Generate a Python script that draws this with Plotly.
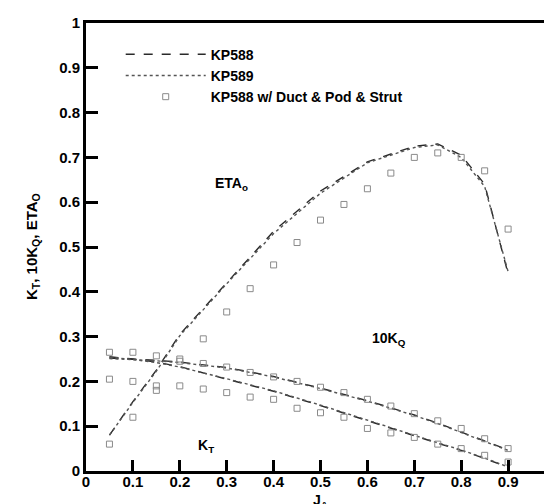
import plotly.graph_objects as go

# Advance coefficient
J_line = [0.05, 0.1, 0.15, 0.2, 0.3, 0.4, 0.5, 0.6, 0.7, 0.75, 0.8, 0.85, 0.9]
# KP588 open-water curves
kp588_kt = [0.255, 0.25, 0.243, 0.233, 0.205, 0.178, 0.146, 0.112, 0.079, 0.062, 0.046, 0.028, 0.008]
kp588_10kq = [0.252, 0.25, 0.247, 0.243, 0.231, 0.211, 0.185, 0.157, 0.125, 0.107, 0.087, 0.068, 0.047]
kp588_eta = [0.08, 0.155, 0.225, 0.305, 0.42, 0.535, 0.625, 0.69, 0.725, 0.73, 0.705, 0.64, 0.44]
# KP589 open-water curves
kp589_kt = [0.254, 0.249, 0.242, 0.232, 0.206, 0.179, 0.147, 0.113, 0.08, 0.063, 0.047, 0.029, 0.009]
kp589_10kq = [0.251, 0.249, 0.246, 0.242, 0.23, 0.21, 0.184, 0.156, 0.124, 0.106, 0.086, 0.067, 0.046]
kp589_eta = [0.08, 0.153, 0.223, 0.302, 0.418, 0.53, 0.62, 0.688, 0.722, 0.728, 0.7, 0.635, 0.445]

# KP588 with duct, pod and strut (measured points)
J_pts = [0.05, 0.1, 0.15, 0.2, 0.25, 0.3, 0.35, 0.4, 0.45, 0.5, 0.55, 0.6, 0.65, 0.7, 0.75, 0.8, 0.85, 0.9]
duct_kt = [0.205, 0.2, 0.19, 0.19, 0.183, 0.175, 0.165, 0.16, 0.14, 0.13, 0.12, 0.095, 0.085, 0.075, 0.06, 0.05, 0.035, 0.02]
duct_10kq = [0.265, 0.265, 0.257, 0.25, 0.24, 0.232, 0.22, 0.21, 0.2, 0.187, 0.175, 0.16, 0.145, 0.128, 0.112, 0.095, 0.072, 0.05]
duct_eta = [0.06, 0.12, 0.18, 0.245, 0.295, 0.355, 0.407, 0.46, 0.51, 0.56, 0.595, 0.63, 0.665, 0.7, 0.71, 0.7, 0.67, 0.54]

x_ticks = [0, 0.1, 0.2, 0.3, 0.4, 0.5, 0.6, 0.7, 0.8, 0.9, 1]
y_ticks = [0, 0.1, 0.2, 0.3, 0.4, 0.5, 0.6, 0.7, 0.8, 0.9, 1]

FONT = "Liberation Sans, Arial, sans-serif"
line_col = "#2a2a2a"
mark_col = "#8a8a8a"

fig = go.Figure()

for i, ys in enumerate([kp588_eta, kp588_10kq, kp588_kt]):
    fig.add_trace(go.Scatter(x=J_line, y=ys, mode="lines", name="<b>KP588</b>",
                             legendgroup="a", showlegend=(i == 0),
                             line=dict(color=line_col, width=1.4, dash="dash")))
for i, ys in enumerate([kp589_eta, kp589_10kq, kp589_kt]):
    fig.add_trace(go.Scatter(x=J_line, y=ys, mode="lines", name="<b>KP589</b>",
                             legendgroup="b", showlegend=(i == 0),
                             line=dict(color="#555555", width=1.4, dash="dot")))
for i, ys in enumerate([duct_eta, duct_10kq, duct_kt]):
    fig.add_trace(go.Scatter(x=J_pts, y=ys, mode="markers",
                             name="<b>KP588 w/ Duct & Pod & Strut</b>",
                             legendgroup="c", showlegend=(i == 0),
                             marker=dict(symbol="square-open", size=6,
                                         color=mark_col, line=dict(width=1, color=mark_col))))

ann_font = dict(family=FONT, size=14, color="black")
fig.add_annotation(x=0.31, y=0.64, text="<b>ETA<sub>o</sub></b>", showarrow=False, font=ann_font)
fig.add_annotation(x=0.645, y=0.295, text="<b>10K<sub>Q</sub></b>", showarrow=False, font=ann_font)
fig.add_annotation(x=0.255, y=0.056, text="<b>K<sub>T</sub></b>", showarrow=False, font=ann_font)

# Axis titles
title_font = dict(family=FONT, size=15, color="black")
fig.add_annotation(xref="paper", yref="paper", x=0.5, y=0, yanchor="top", yshift=-20,
                   text="<b>J<sub>A</sub></b>", showarrow=False,
                   font=dict(family=FONT, size=14, color="black"), borderpad=0)
fig.add_annotation(xref="paper", yref="paper", x=0, y=0.5, xanchor="center", xshift=-54,
                   textangle=-90, text="<b>K<sub>T</sub>, 10K<sub>Q</sub>, ETA<sub>O</sub></b>",
                   showarrow=False, font=title_font)

fig.update_layout(
    width=552, height=504,
    margin=dict(l=78, r=5, t=15, b=41, autoexpand=False),
    paper_bgcolor="white", plot_bgcolor="white",
    font=dict(family=FONT, size=15, color="black"),
    legend=dict(x=0.074, y=0.965, xanchor="left", yanchor="top",
                bgcolor="rgba(0,0,0,0)", itemwidth=80, tracegroupgap=0,
                font=dict(family=FONT, size=14, color="black")),
    xaxis=dict(range=[0, 1], tickvals=x_ticks, ticktext=["<b>%g</b>" % v for v in x_ticks],
               ticks="inside", ticklen=11, tickwidth=3, tickcolor="black",
               showline=True, linewidth=3, linecolor="black", mirror=True,
               showgrid=False, zeroline=False, automargin=False,
               ticklabelstandoff=-5,
               tickfont=dict(family=FONT, size=15)),
    yaxis=dict(range=[0, 1], tickvals=y_ticks, ticktext=["<b>%g</b>" % v for v in y_ticks],
               ticks="inside", ticklen=12, tickwidth=3, tickcolor="black",
               showline=True, linewidth=3, linecolor="black", mirror=True,
               showgrid=False, zeroline=False, automargin=False,
               tickfont=dict(family=FONT, size=15)),
)

fig.write_html("out.html")
